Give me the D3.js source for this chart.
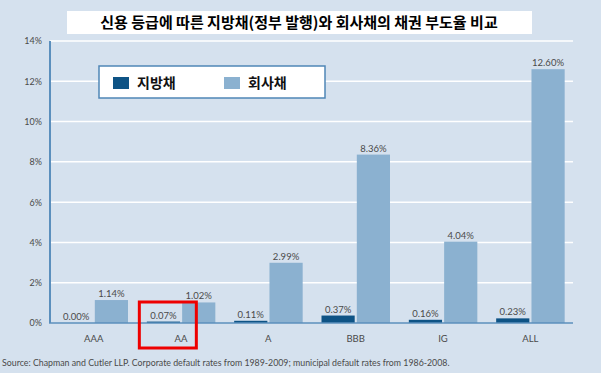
<!DOCTYPE html>
<html>
<head>
<meta charset="utf-8">
<script src="https://cdn.jsdelivr.net/npm/d3@7"></script>
<style>
  html, body { margin:0; padding:0; background:#d5e1ee; }
  svg { display:block; }
  .num { font-family: Lato, "DejaVu Sans", sans-serif; fill:#4a4a4a; }
</style>
</head>
<body>
<div id="chart"></div>
<script>
(function(){
	// ------- data -------
	const categories = ["AAA", "AA", "A", "BBB", "IG", "ALL"];
	const seriesNames = ["지방채", "회사채"];
	const municipal = [0.00, 0.07, 0.11, 0.37, 0.16, 0.23];
	const corporate = [1.14, 1.02, 2.99, 8.36, 4.04, 12.60];
	const yTicks = [0, 2, 4, 6, 8, 10, 12, 14];
	const titleText = "신용 등급에 따른 지방채(정부 발행)와 회사채의 채권 부도율 비교";
	const sourceText = "Source: Chapman and Cutler LLP. Corporate default rates from 1989-2009; municipal default rates from 1986-2008.";
	const highlight = "AA";

	const COLORS = ["#0e5385", "#8bb1d0"];
	const width = 601, height = 373;
	const left = 50, right = 574, top = 41, bottom = 323;

	const svg = d3.select("#chart")
				.append("svg")
				.attr("width", width)
				.attr("height", height);

	svg.append("rect")
	   .attr("width", width).attr("height", height)
	   .attr("fill", "#d5e1ee");

	const x0 = d3.scaleBand()
				 .domain(categories)
				 .range([left, right]);

	const x1 = d3.scaleBand()
				 .domain(seriesNames)
				 .range([9.5, 78])
				 .paddingInner(0.06);

	const y = d3.scaleLinear()
				.domain([0, 14])
				.range([bottom, top]);

	// gridlines
	svg.append("g")
	   .selectAll("line")
	   .data(yTicks.filter(d => d > 0))
	   .enter().append("line")
	   .attr("x1", left).attr("x2", right - 1)
	   .attr("y1", d => y(d)).attr("y2", d => y(d))
	   .attr("stroke", "#ffffff")
	   .attr("stroke-width", 1.5);

	// y axis labels
	const yAxis = d3.axisLeft(y)
					.tickValues(yTicks)
					.tickSize(0)
					.tickPadding(8)
					.tickFormat(d => d + "%");
	svg.append("g")
	   .attr("transform", "translate(" + left + ",0)")
	   .call(yAxis)
	   .call(g => g.select(".domain").remove())
	   .selectAll("text")
	   .attr("class", "num")
	   .style("font-size", "9px");

	// bars
	const rows = categories.map((c, i) => ({ cat: c, vals: [municipal[i], corporate[i]] }));
	const groups = svg.append("g")
					  .selectAll("g")
					  .data(rows)
					  .enter().append("g")
					  .attr("transform", d => "translate(" + x0(d.cat) + ",0)");

	groups.selectAll("rect")
		  .data(d => d.vals.map((v, j) => ({ key: seriesNames[j], v: v, j: j })))
		  .enter().append("rect")
		  .attr("x", d => x1(d.key))
		  .attr("width", x1.bandwidth())
		  .attr("y", d => y(d.v))
		  .attr("height", d => y(0) - y(d.v))
		  .attr("fill", d => COLORS[d.j]);

	groups.selectAll("text")
		  .data(d => d.vals.map((v, j) => ({ key: seriesNames[j], v: v, j: j })))
		  .enter().append("text")
		  .attr("class", "num")
		  .attr("x", d => x1(d.key) + x1.bandwidth() / 2)
		  .attr("y", d => y(d.v) - 3)
		  .attr("text-anchor", "middle")
		  .style("font-size", "9.5px")
		  .text(d => d.v.toFixed(2) + "%");

	// axes lines
	svg.append("line")
	   .attr("x1", left).attr("x2", left)
	   .attr("y1", top).attr("y2", bottom)
	   .attr("stroke", "#5b8fbd").attr("stroke-width", 2);
	svg.append("line")
	   .attr("x1", left - 1).attr("x2", right - 1)
	   .attr("y1", bottom).attr("y2", bottom)
	   .attr("stroke", "#5b8fbd").attr("stroke-width", 1.5);

	// x labels
	const xAxis = d3.axisBottom(x0).tickSize(0).tickPadding(12);
	svg.append("g")
	   .attr("transform", "translate(0," + bottom + ")")
	   .call(xAxis)
	   .call(g => g.select(".domain").remove())
	   .selectAll("text")
	   .attr("class", "num")
	   .style("font-size", "9.5px");

	// legend
	const legend = svg.append("g");
	legend.append("rect")
		  .attr("x", 99).attr("y", 66)
		  .attr("width", 226).attr("height", 32)
		  .attr("fill", "#ffffff")
		  .attr("stroke", "#4f86b6")
		  .attr("stroke-width", 1.5);
	const legendX = [113, 224];
	seriesNames.forEach((s, i) => {
		legend.append("rect")
			  .attr("x", legendX[i]).attr("y", 77)
			  .attr("width", 16).attr("height", 12)
			  .attr("fill", COLORS[i]);
		legend.append("text")
			  .attr("x", legendX[i] + 24).attr("y", 88)
			  .style("font-family", "'Noto Sans CJK KR', sans-serif")
			  .style("font-weight", "bold")
			  .style("font-size", "14px")
			  .attr("fill", "#111")
			  .text(s);
	});

	// title
	svg.append("rect")
	   .attr("x", 67).attr("y", 11)
	   .attr("width", 465).attr("height", 23)
	   .attr("fill", "#ffffff");
	svg.append("text")
	   .attr("x", 299).attr("y", 28)
	   .attr("text-anchor", "middle")
	   .style("font-family", "'Noto Sans CJK KR', sans-serif")
	   .style("font-weight", "bold")
	   .style("font-size", "15px")
	   .attr("fill", "#000")
	   .text(titleText);

	// source
	svg.append("text")
	   .attr("x", 2).attr("y", 366)
	   .attr("class", "num")
	   .style("font-size", "8.8px")
	   .attr("fill", "#555")
	   .text(sourceText);

	// highlight box
	const hx = x0(highlight);
	svg.append("rect")
	   .attr("x", hx + 2).attr("y", 302)
	   .attr("width", 57).attr("height", 46)
	   .attr("fill", "none")
	   .attr("stroke", "#ee0000")
	   .attr("stroke-width", 3);
})();
</script>
</body>
</html>
